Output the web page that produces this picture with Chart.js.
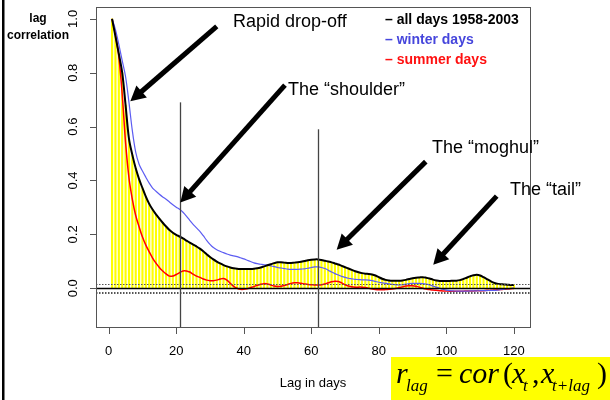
<!DOCTYPE html>
<html>
<head>
<meta charset="utf-8">
<script src="https://cdn.jsdelivr.net/npm/chart.js@4.4.0/dist/chart.umd.min.js"></script>
<style>
  html, body { margin: 0; padding: 0; background: #fff; }
  #wrap { width: 610px; height: 400px; }
</style>
</head>
<body>
<div id="wrap"><canvas id="lagChart" width="610" height="400"></canvas></div>
<script>
// lag (days) and lag correlation for each series
const lags = [
  1, 2, 3, 4, 5, 6, 7, 8, 9, 10, 11, 12, 13, 14, 15, 16, 17, 18, 19, 20,
  21, 22, 23, 24, 25, 26, 27, 28, 29, 30, 31, 32, 33, 34, 35, 36, 37, 38, 39, 40,
  41, 42, 43, 44, 45, 46, 47, 48, 49, 50, 51, 52, 53, 54, 55, 56, 57, 58, 59, 60,
  61, 62, 63, 64, 65, 66, 67, 68, 69, 70, 71, 72, 73, 74, 75, 76, 77, 78, 79, 80,
  81, 82, 83, 84, 85, 86, 87, 88, 89, 90, 91, 92, 93, 94, 95, 96, 97, 98, 99, 100,
  101, 102, 103, 104, 105, 106, 107, 108, 109, 110, 111, 112, 113, 114, 115, 116, 117, 118, 119, 120
];

const allDays = [
  1.000, 0.935, 0.870, 0.800, 0.680, 0.555, 0.495, 0.445, 0.405, 0.372,
  0.340, 0.313, 0.292, 0.274, 0.258, 0.243, 0.229, 0.216, 0.206, 0.198,
  0.192, 0.185, 0.177, 0.169, 0.162, 0.155, 0.147, 0.137, 0.126, 0.116,
  0.107, 0.099, 0.092, 0.086, 0.081, 0.077, 0.074, 0.072, 0.071, 0.071,
  0.071, 0.071, 0.072, 0.074, 0.077, 0.081, 0.085, 0.089, 0.093, 0.096,
  0.096, 0.095, 0.094, 0.094, 0.095, 0.096, 0.098, 0.101, 0.104, 0.106,
  0.107, 0.107, 0.105, 0.102, 0.099, 0.096, 0.092, 0.088, 0.083, 0.078,
  0.073, 0.068, 0.063, 0.059, 0.056, 0.054, 0.053, 0.051, 0.047, 0.041,
  0.035, 0.031, 0.029, 0.028, 0.028, 0.028, 0.029, 0.031, 0.034, 0.037,
  0.039, 0.040, 0.041, 0.039, 0.036, 0.032, 0.029, 0.027, 0.027, 0.027,
  0.027, 0.028, 0.028, 0.030, 0.034, 0.039, 0.044, 0.048, 0.050, 0.047,
  0.041, 0.034, 0.027, 0.021, 0.017, 0.015, 0.014, 0.013, 0.012, 0.012
];

const winterDays = [
  1.000, 0.960, 0.905, 0.845, 0.785, 0.690, 0.585, 0.505, 0.460, 0.435,
  0.412, 0.390, 0.372, 0.360, 0.349, 0.339, 0.330, 0.320, 0.310, 0.301,
  0.293, 0.282, 0.268, 0.252, 0.237, 0.224, 0.211, 0.195, 0.178, 0.163,
  0.151, 0.143, 0.137, 0.132, 0.127, 0.123, 0.120, 0.117, 0.113, 0.109,
  0.104, 0.099, 0.094, 0.091, 0.089, 0.087, 0.086, 0.083, 0.080, 0.077,
  0.075, 0.073, 0.071, 0.070, 0.070, 0.070, 0.071, 0.072, 0.074, 0.077,
  0.079, 0.079, 0.077, 0.073, 0.067, 0.060, 0.054, 0.049, 0.044, 0.040,
  0.037, 0.035, 0.033, 0.032, 0.031, 0.031, 0.030, 0.028, 0.025, 0.022,
  0.020, 0.018, 0.016, 0.014, 0.013, 0.012, 0.013, 0.015, 0.017, 0.018,
  0.018, 0.018, 0.017, 0.015, 0.012, 0.008, 0.004, 0.000, -0.004, -0.007,
  -0.009, -0.010, -0.011, -0.011, -0.011, -0.011, -0.010, -0.010, -0.010, -0.009,
  -0.009, -0.009, -0.008, -0.008, -0.007, -0.005, -0.004, -0.002, -0.001, 0.000
];

const summerDays = [
  1.000, 0.940, 0.860, 0.720, 0.540, 0.410, 0.330, 0.270, 0.228, 0.190,
  0.160, 0.135, 0.112, 0.093, 0.077, 0.064, 0.053, 0.045, 0.045, 0.051,
  0.058, 0.064, 0.064, 0.060, 0.052, 0.045, 0.040, 0.034, 0.030, 0.028,
  0.028, 0.030, 0.034, 0.036, 0.030, 0.018, 0.007, 0.000, -0.004, -0.004,
  -0.002, 0.002, 0.006, 0.011, 0.015, 0.017, 0.016, 0.012, 0.008, 0.006,
  0.007, 0.010, 0.014, 0.018, 0.020, 0.020, 0.018, 0.016, 0.014, 0.013,
  0.012, 0.012, 0.013, 0.016, 0.020, 0.024, 0.026, 0.025, 0.020, 0.013,
  0.008, 0.005, 0.004, 0.004, 0.004, 0.003, 0.000, -0.003, -0.005, -0.006,
  -0.006, -0.005, -0.004, -0.003, -0.001, 0.002, 0.005, 0.008, 0.009, 0.009,
  0.007, 0.004, 0.000, -0.003, -0.005, -0.007, -0.008, -0.009, -0.010, -0.010,
  -0.011, -0.011, -0.011, -0.011, -0.011, -0.010, -0.010, -0.010, -0.009, -0.009,
  -0.009, -0.008, -0.008, -0.007, -0.006, -0.005, -0.004, -0.003, -0.002, -0.001
];

const xTicks = [0, 20, 40, 60, 80, 100, 120];
const yTicks = [0, 0.2, 0.4, 0.6, 0.8, 1.0];

const seriesNames = ["all days 1958-2003", "winter days", "summer days"];
const lineColors = ["#000000", "#5c5cf2", "#ff0000"];
const textColors = ["#000000", "#4646dc", "#ff1010"];

// significance band around zero, and the two marked lags
const bandLevels = [0.015, -0.0155, -0.018];
const markerLags = [21, 62];
const markerTops = [0.69, 0.59];

// call-outs: label position (px) and arrow tail/tip in data units
const notes = [
  { text: "Rapid drop-off", tx: 233, ty: 22, from: [32.0, 0.972], to: [6.4, 0.694] },
  { text: "The \u201Cshoulder\u201D", tx: 288, ty: 90, from: [52.2, 0.754], to: [21.2, 0.318] },
  { text: "The \u201Cmoghul\u201D", tx: 432, ty: 148, from: [93.9, 0.47], to: [67.5, 0.143] },
  { text: "The \u201Ctail\u201D", tx: 510, ty: 190, from: [114.9, 0.342], to: [96.1, 0.087] }
];

const toPoints = (vals) => vals.map((v, i) => ({ x: lags[i], y: v }));

const drawArrow = (ctx, x1, y1, x2, y2) => {
  const ang = Math.atan2(y2 - y1, x2 - x1);
  const head = 15;
  const half = 8;
  const bx = x2 - Math.cos(ang) * head;
  const by = y2 - Math.sin(ang) * head;
  ctx.strokeStyle = "#000";
  ctx.lineWidth = 5;
  ctx.lineCap = "butt";
  ctx.beginPath();
  ctx.moveTo(x1, y1);
  ctx.lineTo(bx + Math.cos(ang) * 2, by + Math.sin(ang) * 2);
  ctx.stroke();
  ctx.fillStyle = "#000";
  ctx.beginPath();
  ctx.moveTo(x2, y2);
  ctx.lineTo(bx + Math.sin(ang) * half, by - Math.cos(ang) * half);
  ctx.lineTo(bx - Math.sin(ang) * half, by + Math.cos(ang) * half);
  ctx.closePath();
  ctx.fill();
};

const decorations = {
  id: "decorations",
  afterDatasetsDraw(chart) {
    const { ctx, chartArea: a, scales: { x, y } } = chart;
    ctx.save();

    // zero line
    const y0 = Math.round(y.getPixelForValue(0)) + 0.5;
    ctx.strokeStyle = "#000";
    ctx.lineWidth = 1.5;
    ctx.beginPath();
    ctx.moveTo(a.left, y0);
    ctx.lineTo(a.right, y0);
    ctx.stroke();

    // dotted band lines
    ctx.lineWidth = 1;
    ctx.strokeStyle = "#555";
    ctx.setLineDash([1.5, 1.5]);
    bandLevels.forEach((lv) => {
      const py = Math.round(y.getPixelForValue(lv)) + 0.5;
      ctx.beginPath();
      ctx.moveTo(a.left, py);
      ctx.lineTo(a.right, py);
      ctx.stroke();
    });
    ctx.setLineDash([]);

    // vertical markers
    ctx.strokeStyle = "#444";
    ctx.lineWidth = 1.3;
    markerLags.forEach((lag, i) => {
      const px = Math.round(x.getPixelForValue(lag)) + 0.5;
      ctx.beginPath();
      ctx.moveTo(px, y.getPixelForValue(markerTops[i]));
      ctx.lineTo(px, a.bottom);
      ctx.stroke();
    });

    // plot box and tick marks
    ctx.strokeStyle = "#555";
    ctx.lineWidth = 1;
    ctx.strokeRect(a.left + 0.5, a.top + 0.5, a.right - a.left, a.bottom - a.top);
    ctx.beginPath();
    xTicks.forEach((v) => {
      const px = Math.round(x.getPixelForValue(v)) + 0.5;
      ctx.moveTo(px, a.bottom);
      ctx.lineTo(px, a.bottom + 7);
    });
    yTicks.forEach((v) => {
      const py = Math.round(y.getPixelForValue(v)) + 0.5;
      ctx.moveTo(a.left - 6, py);
      ctx.lineTo(a.left, py);
    });
    ctx.stroke();
    ctx.restore();
  },
  afterDraw(chart) {
    const { ctx, chartArea: a, scales: { x, y } } = chart;
    ctx.save();

    // y tick labels, rotated
    ctx.fillStyle = "#000";
    ctx.font = "13px Arial, 'Liberation Sans', sans-serif";
    ctx.textAlign = "center";
    ctx.textBaseline = "middle";
    yTicks.forEach((v) => {
      ctx.save();
      ctx.translate(73, y.getPixelForValue(v));
      ctx.rotate(-Math.PI / 2);
      ctx.fillText(v.toFixed(1), 0, 0);
      ctx.restore();
    });

    // axis titles
    ctx.fillText("Lag in days", (a.left + a.right) / 2, 383);
    ctx.font = "bold 12px Arial, 'Liberation Sans', sans-serif";
    ctx.fillText("lag", 38, 19);
    ctx.fillText("correlation", 38, 36);

    // legend
    ctx.textAlign = "left";
    ctx.font = "bold 14px Arial, 'Liberation Sans', sans-serif";
    seriesNames.forEach((name, i) => {
      ctx.fillStyle = textColors[i];
      ctx.fillText("\u2013 " + name, 385, 20 + i * 20);
    });

    // call-outs
    ctx.fillStyle = "#000";
    ctx.font = "18px Arial, 'Liberation Sans', sans-serif";
    notes.forEach((n) => {
      ctx.fillText(n.text, n.tx, n.ty);
      drawArrow(ctx,
        x.getPixelForValue(n.from[0]), y.getPixelForValue(n.from[1]),
        x.getPixelForValue(n.to[0]), y.getPixelForValue(n.to[1]));
    });

    // formula box
    ctx.fillStyle = "#ffff00";
    ctx.fillRect(391, 357, 219, 43);
    ctx.fillStyle = "#000";
    ctx.textBaseline = "alphabetic";
    const big = "italic 30px 'Liberation Serif', 'Times New Roman', serif";
    const bigUp = "30px 'Liberation Serif', 'Times New Roman', serif";
    const small = "italic 17px 'Liberation Serif', 'Times New Roman', serif";
    const parts = [
      ["r", big, 396, 0], ["lag", small, 406, 8], ["=", bigUp, 436, 0], ["cor", big, 459, 0],
      ["(", bigUp, 503, 0], ["x", big, 512, 0], ["t", small, 523, 8], [",", bigUp, 532, 0],
      ["x", big, 541, 0], ["t+lag", small, 552, 8], [")", bigUp, 597, 0]
    ];
    parts.forEach(([t, f, px, dy]) => {
      ctx.font = f;
      ctx.fillText(t, px, 383 + dy);
    });

    // left frame rule
    ctx.fillStyle = "#000";
    ctx.fillRect(2, 0, 2.5, 400);
    ctx.restore();
  }
};

const ctx = document.getElementById("lagChart").getContext("2d");
new Chart(ctx, {
  type: "bar",
  data: {
    datasets: [
      {
        type: "line", label: seriesNames[0], data: toPoints(allDays),
        borderColor: lineColors[0], borderWidth: 2, pointRadius: 0, tension: 0.35, order: 1
      },
      {
        type: "line", label: seriesNames[1], data: toPoints(winterDays),
        borderColor: lineColors[1], borderWidth: 1.2, pointRadius: 0, tension: 0.35, order: 2
      },
      {
        type: "line", label: seriesNames[2], data: toPoints(summerDays),
        borderColor: lineColors[2], borderWidth: 1.5, pointRadius: 0, tension: 0.35, order: 3
      },
      {
        type: "bar", label: "lag bars", data: toPoints(allDays),
        backgroundColor: "#ffff00", barThickness: 1.5, order: 4
      }
    ]
  },
  options: {
    responsive: false,
    animation: false,
    layout: { padding: { top: 7, right: 80, left: 0, bottom: 0 } },
    plugins: { legend: { display: false }, tooltip: { enabled: false } },
    scales: {
      x: {
        type: "linear", min: -3.76, max: 124.76, offset: false,
        afterBuildTicks: (s) => { s.ticks = xTicks.map((v) => ({ value: v })); },
        afterFit: (s) => { s.height = 73; },
        grid: { display: true, offset: false, drawOnChartArea: false, drawTicks: true, tickLength: 7, color: "rgba(0,0,0,0)" },
        border: { display: false },
        ticks: { color: "#000", padding: 10, maxRotation: 0, font: { size: 13, family: "Arial" } }
      },
      y: {
        type: "linear", min: -0.144, max: 1.044,
        afterBuildTicks: (s) => { s.ticks = yTicks.map((v) => ({ value: v })); },
        afterFit: (s) => { s.width = 96; },
        grid: { display: false },
        border: { display: false },
        ticks: { display: false }
      }
    }
  },
  plugins: [decorations]
});
</script>
</body>
</html>
